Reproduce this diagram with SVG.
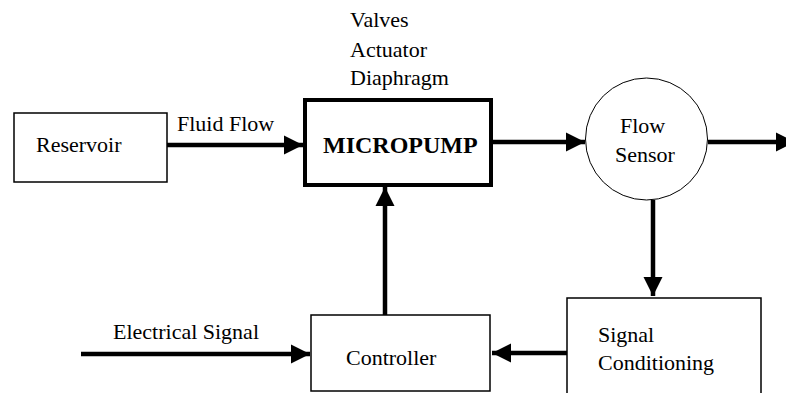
<svg xmlns="http://www.w3.org/2000/svg" width="786" height="393" viewBox="0 0 786 393">
<style>
text{font-family:"Liberation Serif","Times New Roman",serif;font-size:22px;fill:#000}
.box{fill:#fff;stroke:#000;stroke-width:1.5}
.thick{fill:#fff;stroke:#000;stroke-width:4}
.conn{stroke:#000;stroke-width:4.5;fill:none}
.bold{font-weight:bold;font-size:24px}
</style>
<defs>
<marker id="ah" viewBox="0 0 10 10" refX="10" refY="5" markerWidth="4.3" markerHeight="4.5" markerUnits="strokeWidth" orient="auto">
<path d="M0,0 L10,5 L0,10 Z" fill="#000"/>
</marker>
</defs>
<rect width="786" height="393" fill="#fff"/>
<g id="connectors">
<line class="conn" x1="167" y1="145" x2="303" y2="145" marker-end="url(#ah)"/>
<line class="conn" x1="493" y1="142" x2="585" y2="142" marker-end="url(#ah)"/>
<line class="conn" x1="708" y1="142" x2="795" y2="142" marker-end="url(#ah)"/>
<line class="conn" x1="653" y1="200" x2="653" y2="296" marker-end="url(#ah)"/>
<line class="conn" x1="567" y1="353" x2="492" y2="353" marker-end="url(#ah)"/>
<line class="conn" x1="385" y1="315" x2="385" y2="187" marker-end="url(#ah)"/>
<line class="conn" x1="81" y1="354" x2="310" y2="354" marker-end="url(#ah)"/>
</g>
<g id="reservoir">
<rect class="box" x="14" y="113" width="153" height="69"/>
<text x="36" y="152">Reservoir</text>
</g>
<g id="micropump">
<rect class="thick" x="305" y="100" width="186" height="85"/>
<text class="bold" x="323" y="153">MICROPUMP</text>
</g>
<g id="micropump-labels">
<text x="350" y="27">Valves</text>
<text x="350" y="57">Actuator</text>
<text x="350" y="85">Diaphragm</text>
</g>
<g id="flow-sensor">
<circle cx="646.5" cy="139" r="61" fill="#fff" stroke="#000" stroke-width="1"/>
<text x="620" y="133">Flow</text>
<text x="615" y="162">Sensor</text>
</g>
<g id="signal-conditioning">
<path class="box" d="M567,400 L567,298 L761,298 L761,400"/>
<text x="598" y="342">Signal</text>
<text x="598" y="370">Conditioning</text>
</g>
<g id="controller">
<rect class="box" x="311" y="315" width="179" height="76"/>
<text x="346" y="365">Controller</text>
</g>
<g id="labels">
<text x="177" y="131">Fluid Flow</text>
<text x="113" y="339">Electrical Signal</text>
</g>
</svg>
